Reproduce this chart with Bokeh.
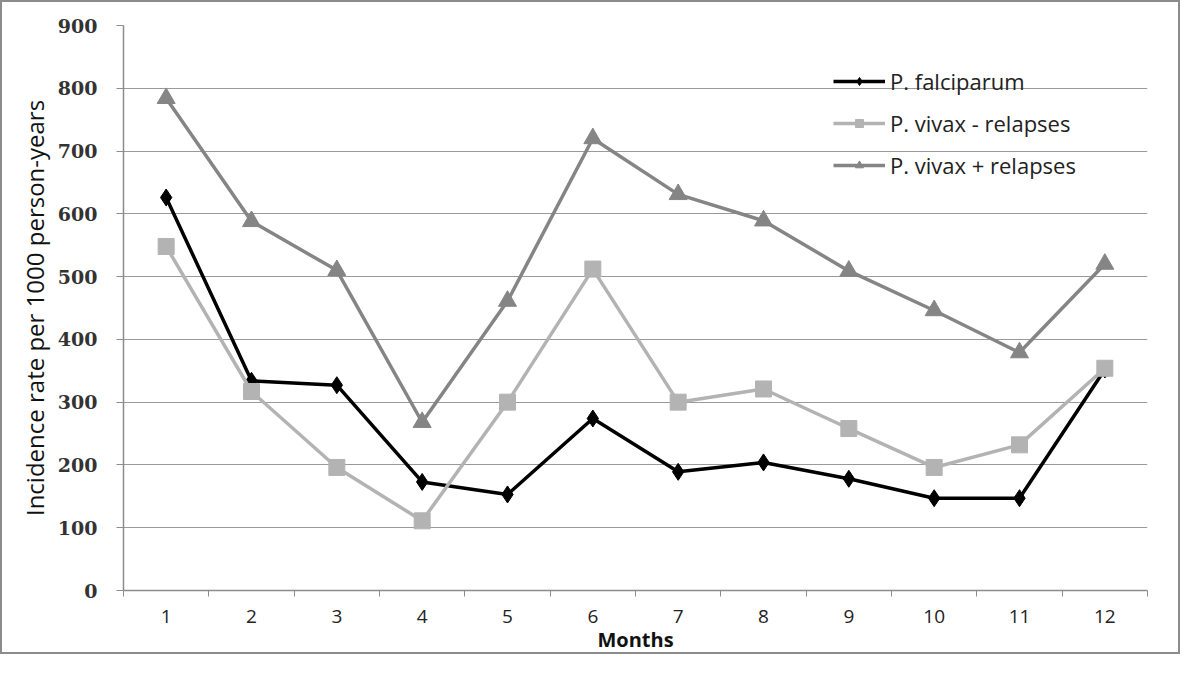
from bokeh.plotting import figure
from bokeh.models import Range1d, FixedTicker, Legend, LegendItem
from bokeh.embed import file_html
from bokeh.resources import INLINE

months = [1, 2, 3, 4, 5, 6, 7, 8, 9, 10, 11, 12]
month_labels = [str(m) for m in months]
falciparum = [626, 334, 327, 173, 153, 274, 189, 204, 178, 147, 147, 352]
vivax_minus = [548, 317, 196, 111, 300, 512, 300, 321, 258, 196, 232, 354]
vivax_plus = [784, 588, 510, 268, 461, 720, 631, 589, 509, 446, 379, 520]
y_ticks = [0, 100, 200, 300, 400, 500, 600, 700, 800, 900]

p = figure(width=1180, height=654, output_backend="svg", toolbar_location=None,
           x_range=Range1d(0.5, 12.5), y_range=Range1d(0, 900),
           min_border_left=121, min_border_top=23, min_border_right=35, min_border_bottom=66)
p.styles = {"border": "2px solid #8c8c8c"}
p.outline_line_color = None
p.background_fill_color = "white"
p.border_fill_color = "white"

# axes
p.xaxis.ticker = FixedTicker(ticks=months, minor_ticks=[m - 0.5 for m in months] + [12.5])
p.xaxis.major_label_overrides = {m: l for m, l in zip(months, month_labels)}
p.xaxis.major_tick_line_color = None
p.xaxis.major_tick_out = 0
p.xaxis.major_tick_in = 0
p.xaxis.minor_tick_line_color = "#8c8c8c"
p.xaxis.minor_tick_out = 6
p.xaxis.minor_tick_in = 0
p.xaxis.axis_line_color = "#8c8c8c"
p.xaxis.axis_line_width = 1.5
p.xaxis.major_label_text_font = "Open Sans"
p.xaxis.major_label_text_font_size = "19px"
p.xaxis.major_label_text_color = "#222222"
p.xaxis.major_label_standoff = 13
p.xaxis.axis_label = "Months"
p.xaxis.axis_label_text_font = "Open Sans"
p.xaxis.axis_label_text_font_style = "bold"
p.xaxis.axis_label_text_font_size = "20px"
p.xaxis.axis_label_text_color = "#111111"
p.xaxis.axis_label_standoff = 0

p.yaxis.ticker = FixedTicker(ticks=y_ticks)
p.yaxis.minor_tick_line_color = None
p.yaxis.major_tick_out = 7
p.yaxis.major_tick_in = 0
p.yaxis.major_tick_line_color = "#8c8c8c"
p.yaxis.axis_line_color = "#8c8c8c"
p.yaxis.axis_line_width = 1.5
p.yaxis.major_label_text_font = "DejaVu Serif"
p.yaxis.major_label_text_font_style = "bold"
p.yaxis.major_label_text_font_size = "19px"
p.yaxis.major_label_text_color = "#333333"
p.yaxis.major_label_standoff = 19
p.yaxis.axis_label = "Incidence rate per 1000 person-years"
p.yaxis.axis_label_text_font = "Open Sans"
p.yaxis.axis_label_text_font_style = "normal"
p.yaxis.axis_label_text_font_size = "24px"
p.yaxis.axis_label_text_color = "#111111"
p.yaxis.axis_label_standoff = 4

p.xgrid.grid_line_color = None
p.ygrid.ticker = FixedTicker(ticks=y_ticks[1:])
p.ygrid.grid_line_color = "#9a9a9a"
p.ygrid.grid_line_width = 1.2

# series
l1 = p.line(months, falciparum, line_color="black", line_width=3.5)
m1 = p.scatter(months, falciparum, marker="diamond", size=17, color="black")
l2 = p.line(months, vivax_minus, line_color="#b3b3b3", line_width=3.5)
m2 = p.scatter(months, vivax_minus, marker="square", size=16, color="#b3b3b3")
l3 = p.line(months, vivax_plus, line_color="#858585", line_width=3.5)
m3 = p.scatter(months, vivax_plus, marker="triangle", size=18, color="#858585")

legend = Legend(items=[
    LegendItem(label="P. falciparum", renderers=[l1, m1]),
    LegendItem(label="P. vivax - relapses", renderers=[l2, m2]),
    LegendItem(label="P. vivax + relapses", renderers=[l3, m3]),
], location=(710, 410))
legend.background_fill_alpha = 0
legend.border_line_color = None
legend.padding = 0
legend.margin = 0
legend.spacing = 12
legend.glyph_width = 52
legend.glyph_height = 20
legend.label_height = 20
legend.label_standoff = 5
legend.label_text_font = "Open Sans"
legend.label_text_font_size = "22px"
legend.label_text_color = "#222222"
p.add_layout(legend)

open("out.html", "w").write(file_html(p, INLINE))
